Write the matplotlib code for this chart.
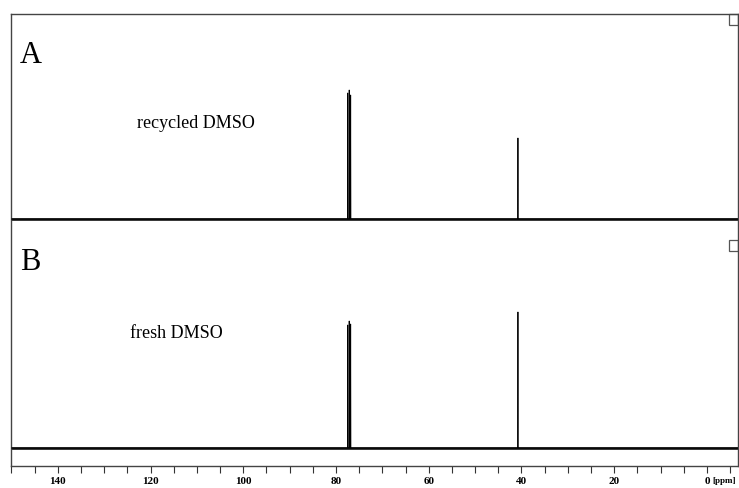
import matplotlib
matplotlib.use("Agg")
import matplotlib.pyplot as plt
from matplotlib.patches import Rectangle
from matplotlib.ticker import MultipleLocator
import numpy as np

# ---- data ----
# peak positions (ppm) and heights (arbitrary units) for each spectrum
peaks_ppm = [77.48, 77.16, 76.84, 40.76]
heights_recycled = [126, 129, 124, 81]
heights_fresh = [123, 127, 124, 136]
labels_panel = ["A", "B"]
labels_sample = ["recycled DMSO", "fresh DMSO"]
major_ticks = [140, 120, 100, 80, 60, 40, 20, 0]
x_range = (150.1, -6.7)

# ---- layout constants ----
W, H = 739, 488
fig = plt.figure(figsize=(W / 100, H / 100), dpi=100)
left_px, right_px, top_px, bottom_px = 11, 738, 14, 465.5
ax = fig.add_axes([left_px / W, (H - bottom_px) / H,
                   (right_px - left_px) / W, (bottom_px - top_px) / H])
ymax = bottom_px - top_px
ax.set_xlim(*x_range)
ax.set_ylim(0, ymax)

offsets = [246.5, 17.5]
spectra = [heights_recycled, heights_fresh]
half_w = 0.05


def build_spectrum(pos, hts):
    xs = [x_range[0]]
    ys = [0.0]
    for p, h in sorted(zip(pos, hts), key=lambda t: -t[0]):
        xs += [p + half_w, p, p - half_w]
        ys += [0.0, h, 0.0]
    xs.append(x_range[1])
    ys.append(0.0)
    return np.array(xs), np.array(ys)


for off, hts in zip(offsets, spectra):
    # noisy-looking baseline (thick line)
    ax.plot(list(x_range), [off, off], color="#111111", lw=1.9,
            solid_capstyle="butt", zorder=2)
    xs, ys = build_spectrum(peaks_ppm, hts)
    ax.plot(xs, ys + off, color="black", lw=0.6, zorder=3)

# panel letters and sample labels
serif = "Liberation Serif"
ax.text(0.0124, 0.891, labels_panel[0], transform=ax.transAxes,
        fontsize=22, family=serif, va="baseline", ha="left")
ax.text(0.0124, 0.433, labels_panel[1], transform=ax.transAxes,
        fontsize=22, family=serif, va="baseline", ha="left")
ax.text(0.173, 0.7475, labels_sample[0], transform=ax.transAxes,
        fontsize=13, family=serif, va="baseline", ha="left")
ax.text(0.164, 0.282, labels_sample[1], transform=ax.transAxes,
        fontsize=13, family=serif, va="baseline", ha="left")

# small squares at top right of each panel
sq_w = 9 / (right_px - left_px)
sq_h = 10.5 / ymax
for ytop in [1.0, (bottom_px - 240) / ymax]:
    ax.add_patch(Rectangle((1 - sq_w, ytop - sq_h), sq_w, sq_h,
                           transform=ax.transAxes, fill=False,
                           edgecolor="#555555", lw=0.9, clip_on=False))

# axes styling
for s in ax.spines.values():
    s.set_color("#444444")
    s.set_linewidth(1.0)
ax.set_yticks([])
ax.xaxis.set_minor_locator(MultipleLocator(5))
ax.set_xticks(major_ticks)
ax.set_xticklabels([str(t) for t in major_ticks])
tick_len, tick_pad, fs = 5, 3.5, 8
ax.tick_params(axis="x", which="both", length=tick_len, width=0.8,
               color="#333333", direction="out", pad=tick_pad)
for lab in ax.get_xticklabels():
    lab.set_fontfamily(serif)
    lab.set_fontweight("bold")
    lab.set_fontsize(fs)
ax.annotate("[ppm]", xy=(-6.2, 0), xycoords=ax.get_xaxis_transform(),
            xytext=(0, -(tick_len + tick_pad)), textcoords="offset points",
            fontsize=6.5, family=serif, fontweight="bold",
            ha="right", va="top")

fig.savefig("out.png", dpi=100)
